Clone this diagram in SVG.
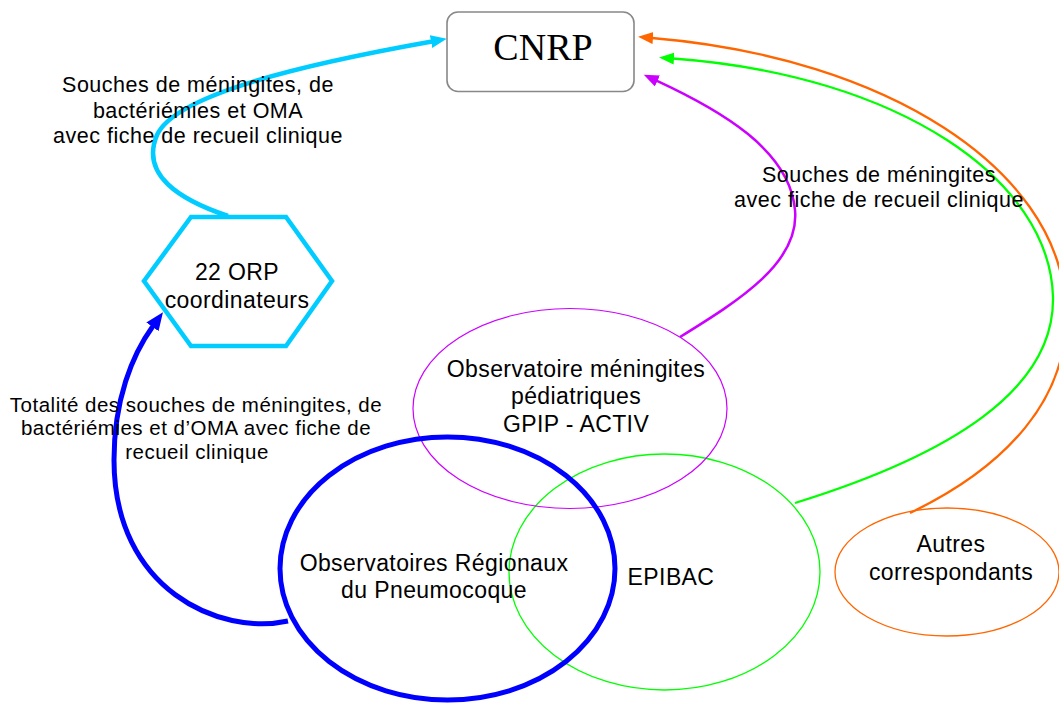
<svg xmlns="http://www.w3.org/2000/svg" width="1059" height="706" viewBox="0 0 1059 706">
<style>
text{font-family:"Liberation Sans",Arial,sans-serif;fill:#000;text-anchor:middle}
.lbl{font-size:20.5px;letter-spacing:0.5px}
.node{font-size:23px;letter-spacing:0.4px}
.conn{fill:none}
</style>
<defs>
<marker id="aCyan" markerUnits="userSpaceOnUse" markerWidth="18" markerHeight="14" refX="1" refY="6.5" orient="auto"><path d="M0,0 L16,6.5 L0,13 z" fill="#00CCFF"/></marker>
<marker id="aBlue" markerUnits="userSpaceOnUse" markerWidth="20" markerHeight="16" refX="1" refY="7.5" orient="auto"><path d="M0,0 L18,7.5 L0,15 z" fill="#0000FF"/></marker>
<marker id="aMag" markerUnits="userSpaceOnUse" markerWidth="18" markerHeight="14" refX="1" refY="6" orient="auto"><path d="M0,0 L15,6 L0,12 z" fill="#CC00FF"/></marker>
<marker id="aGreen" markerUnits="userSpaceOnUse" markerWidth="18" markerHeight="14" refX="1" refY="6" orient="auto"><path d="M0,0 L15,6 L0,12 z" fill="#00FF00"/></marker>
<marker id="aOrange" markerUnits="userSpaceOnUse" markerWidth="18" markerHeight="14" refX="1" refY="6" orient="auto"><path d="M0,0 L15,6 L0,12 z" fill="#FF6600"/></marker>
</defs>

<g id="node-epibac">
<ellipse cx="664.5" cy="572" rx="155.5" ry="118" fill="none" stroke="#00FF00" stroke-width="1.3"/>
<text class="node" x="671" y="585">EPIBAC</text>
</g>
<g id="node-gpip">
<ellipse cx="570" cy="408.5" rx="157" ry="100" fill="none" stroke="#CC00FF" stroke-width="1.2"/>
<text class="node" x="576" y="377">Observatoire méningites</text>
<text class="node" x="576" y="404">pédiatriques</text>
<text class="node" x="576" y="432">GPIP - ACTIV</text>
</g>
<g id="node-orp">
<ellipse cx="447.5" cy="568.5" rx="167.5" ry="131.5" fill="none" stroke="#0000FF" stroke-width="5"/>
<text class="node" x="434" y="571">Observatoires Régionaux</text>
<text class="node" x="434" y="598">du Pneumocoque</text>
</g>
<g id="node-autres">
<ellipse cx="947" cy="572" rx="112" ry="64" fill="none" stroke="#FF6600" stroke-width="1.3"/>
<text class="node" x="951" y="552">Autres</text>
<text class="node" x="951" y="580">correspondants</text>
</g>
<g id="node-coord">
<polygon points="191,217 286,217 332,281 286,346 191,346 144,281" fill="none" stroke="#00CCFF" stroke-width="4.5"/>
<text class="node" x="237" y="280">22 ORP</text>
<text class="node" x="237" y="308">coordinateurs</text>
</g>
<g id="node-cnrp">
<rect x="447" y="12" width="187" height="79.5" rx="11" fill="#fff" stroke="#888" stroke-width="1.6"/>
<text x="543" y="60" style="font-family:'Liberation Serif','Times New Roman',serif;font-size:38px">CNRP</text>
</g>

<g id="connectors">
<path class="conn" d="M228,216 C180,200 140,175 157,135 C175,95 300,65 432,41.5" stroke="#00CCFF" stroke-width="4.5" marker-end="url(#aCyan)"/>
<path class="conn" d="M288,621 C220,636 114,590 114,460 C114,400 132,355 153,326" stroke="#0000FF" stroke-width="5" marker-end="url(#aBlue)"/>
<path class="conn" d="M680,337 C740,300 800,262 795,210 C790,150 720,110 656.5,80.6" stroke="#CC00FF" stroke-width="2.5" marker-end="url(#aMag)"/>
<path class="conn" d="M795,503 C950,455 1055,390 1053,297 C1050,180 900,75 673,58.5" stroke="#00FF00" stroke-width="2.3" marker-end="url(#aGreen)"/>
<path class="conn" d="M910,513 C1000,470 1075,400 1065,300 C1055,170 890,58 652,38" stroke="#FF6600" stroke-width="2.3" marker-end="url(#aOrange)"/>
</g>

<g id="labels">
<text class="lbl" x="198" y="92" style="font-size:21.5px">Souches de méningites, de</text>
<text class="lbl" x="198" y="118" style="font-size:21.5px">bactériémies et OMA</text>
<text class="lbl" x="198" y="143" style="font-size:21.5px">avec fiche de recueil clinique</text>
<text class="lbl" x="879" y="182" style="font-size:21.5px">Souches de méningites</text>
<text class="lbl" x="879" y="207" style="font-size:21.5px">avec fiche de recueil clinique</text>
<text class="lbl" x="196" y="412">Totalité des souches de méningites, de</text>
<text class="lbl" x="196" y="435">bactériémies et d’OMA avec fiche de</text>
<text class="lbl" x="197" y="459">recueil clinique</text>
</g>
</svg>
